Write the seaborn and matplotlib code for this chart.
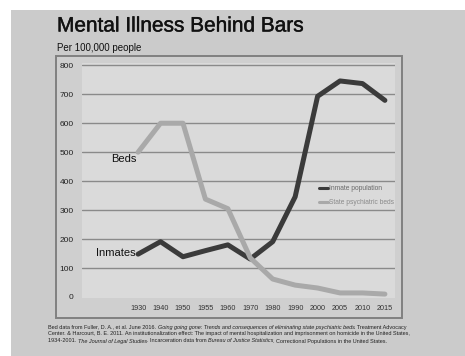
import numpy as np
import pandas as pd
import seaborn as sns
import matplotlib
matplotlib.use("Agg")
import matplotlib.pyplot as plt
from matplotlib.patches import Rectangle
from matplotlib.lines import Line2D
import matplotlib.patheffects as pe

years = ["1930", "1940", "1950", "1955", "1960", "1970", "1980", "1990", "2000", "2005", "2010", "2015"]
inmates = [148, 191, 139, 160, 180, 131, 191, 346, 693, 746, 737, 679]
beds = [500, 600, 600, 338, 305, 135, 62, 41, 31, 14, 14, 10]
yticks = [0, 100, 200, 300, 400, 500, 600, 700, 800]
series_names = ["Inmate population", "State psychiatric beds"]

sns.set_theme(style="white")
plt.rcParams['font.family'] = ['Liberation Sans', 'DejaVu Sans']

W, H = 465, 356
fig = plt.figure(figsize=(W / 100, H / 100), dpi=100)
fig.patch.set_facecolor("white")

def px_rect(x0, y0, x1, y1, **kw):
    r = Rectangle((x0 / W, 1 - y1 / H), (x1 - x0) / W, (y1 - y0) / H,
                  transform=fig.transFigure, **kw)
    fig.patches.append(r)

px_rect(11, 10, 466, 357, facecolor="#cbcbcb", edgecolor="none", zorder=0)
px_rect(56, 56, 402, 318, facecolor="#cfcfcf", edgecolor="#808080", linewidth=1.4, zorder=1)

ax = fig.add_axes([82 / W, 1 - 298 / H, (395 - 82) / W, (298 - 63) / H], zorder=2)
ax.set_facecolor("#dadada")

pos = np.arange(len(years))
df = pd.DataFrame({
    "pos": np.concatenate([pos, pos]),
    "value": inmates + beds,
    "series": [series_names[0]] * len(years) + [series_names[1]] * len(years),
})
sns.lineplot(data=df, x="pos", y="value", hue="series",
             palette={series_names[0]: "#3b3b3b", series_names[1]: "#a9a9a9"},
             linewidth=3.6, ax=ax, legend=False, zorder=3)

ax.set_xlim(-2.5, 11.45)
ax.set_ylim(-3.5, 808)
ax.set_yticks(yticks)
ax.set_yticklabels([str(v) for v in yticks], fontsize=6, color="#222222")
ax.set_xticks(pos)
ax.set_xticklabels(years, fontsize=5.2, color="#333333")
ax.tick_params(axis="y", length=0, pad=6)
ax.tick_params(axis="x", length=0, pad=5)
ax.set_xlabel("")
ax.set_ylabel("")
for s in ax.spines.values():
    s.set_visible(False)
for v in yticks[1:]:
    ax.axhline(v, color="#8a8a8a", linewidth=1.0, zorder=1)

ax.text(-0.05, 476, "Beds", fontsize=8, ha="right", va="center", color="#111111")
ax.text(-0.12, 152, "Inmates", fontsize=8, ha="right", va="center", color="#111111")

handles = [Line2D([], [], color="#3b3b3b", linewidth=2.2),
           Line2D([], [], color="#a9a9a9", linewidth=2.2)]
leg = ax.legend(handles, series_names, loc="upper left",
                bbox_to_anchor=(316 / W, 1 - 182 / H), bbox_transform=fig.transFigure,
                frameon=False, fontsize=4.8, handlelength=1.3, handletextpad=0.2,
                labelspacing=1.0, borderpad=0)
for t, c in zip(leg.get_texts(), ["#6a6a6a", "#8a8a8a"]):
    t.set_color(c)

fig.text(57 / W, 1 - 26 / H, "Mental Illness Behind Bars", fontsize=15,
         ha="left", va="center", color="#111111",
         path_effects=[pe.withStroke(linewidth=0.3, foreground="#111111")])
fig.text(57 / W, 1 - 48 / H, "Per 100,000 people", fontsize=7,
         ha="left", va="center", color="#111111")

fig.canvas.draw()
renderer = fig.canvas.get_renderer()
lines = [
    [("Bed data from Fuller, D. A., et al. June 2016. ", "normal"),
     ("Going going gone: Trends and consequences of eliminating state psychiatric beds", "italic"),
     (". Treatment Advocacy", "normal")],
    [("Center. & Harcourt, B. E. 2011. An institutionalization effect: The impact of mental hospitalization and imprisonment on homicide in the United States,", "normal")],
    [("1934-2001. ", "normal"), ("The Journal of Legal Studies", "italic"),
     (". Incarceration data from ", "normal"), ("Bureau of Justice Statistics", "italic"),
     (". Correctional Populations in the United States.", "normal")],
]
ys = [327, 334, 341]
for segs, ypx in zip(lines, ys):
    x = 48 / W
    for s, style in segs:
        t = fig.text(x, 1 - ypx / H, s, fontsize=3.95, style=style, ha="left",
                     va="center", color="#222222")
        bb = t.get_window_extent(renderer=renderer)
        x = (bb.x1) / (W)

fig.savefig("out.png", dpi=100, facecolor="white")
